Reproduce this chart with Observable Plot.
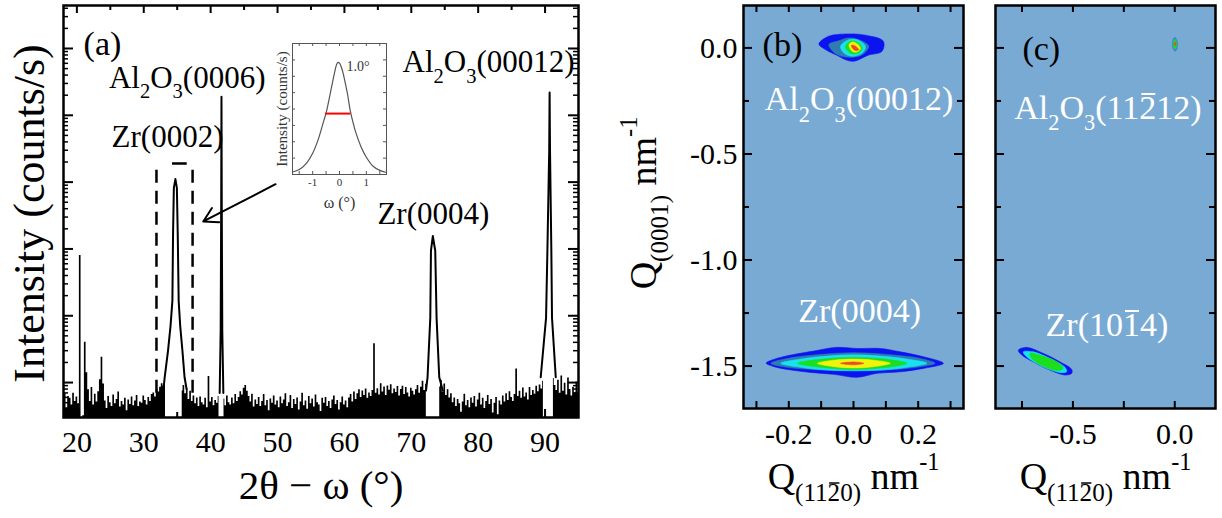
<!DOCTYPE html>
<html><head><meta charset="utf-8">
<script src="https://cdn.jsdelivr.net/npm/d3@7"></script>
<script src="https://cdn.jsdelivr.net/npm/@observablehq/plot@0.6"></script>
<style>
body{margin:0;background:#fff;}
#fig{position:relative;width:1222px;height:518px;overflow:hidden;background:#fff;}
#fig > div{position:absolute;top:0;}
#fig svg text, #fig svg tspan{font-family:'Liberation Serif','Times New Roman',serif !important;}
</style></head><body><div id="fig"></div>
<script>
// ---------------- DATA ----------------
// Panel (a): 2theta-omega survey scan (counts/s), sampled every 0.25 deg from 18 deg
const scanStart = 18, scanStep = 0.25;
const scanCounts = [
5.5,6.8,4.2,6.2, 5.8,4.6,6.9,5.2, 6.1,4.8,800,3, 3.2,40,14,7.8,
5.2,8.4,4.6,6.7, 5.1,7.3,11,24, 9.5,5.3,4.1,6.2, 5.0,4.4,6.5,4.8,
5.6,7.2,4.3,5.2, 4.6,5.8,3.8,5.5, 4.7,6.1,4.5,5.3, 6.4,4.4,5.1,4.9,
6.3,5.4,4.6,6.0, 5.2,6.6,7.0,6.1, 7.8,7.2,8.5,9.6, 8.8,10,null,null,
null,null,null,null, null,null,null,7.5, 9.0,6.8,8.1,5.6, 7.4,5.2,6.3,4.8,
5.9,4.4,6.1,5.0, 4.6,5.8,4.2,12.3, 5.1,6.0,4.5,5.4, 4.9,6.2,null,null,
5.7,4.5,6.3,5.0, 4.6,5.9,4.8,6.6, 5.2,6.0,7.3,6.5, 8.2,9.0,7.4,6.2,
5.1,6.7,4.3,5.5, 4.7,6.0,4.4,5.2, 6.6,4.5,5.4,3.8, 5.7,4.9,6.3,4.6,
5.3,4.2,6.1,4.8, 5.5,6.8,4.4,5.0, 6.4,4.1,5.6,4.7, 5.9,3.9,5.1,6.9,
4.5,5.3,4.0,6.2, 4.8,5.7,4.3,6.5, 5.0,4.6,3.7,5.8, 4.9,6.0,4.4,5.2,
4.1,5.5,6.3,4.7, 5.4,3.9,5.0,6.1, 4.6,5.3,4.2,5.9, 6.6,5.1,7.2,5.6,
6.8,7.8,6.0,7.5, 6.4,8.0,5.8,7.0, 6.2,7.6,38,6.9, 8.1,6.5,9.6,7.2,
8.6,6.4,8.9,7.7, 9.3,6.8,8.0,7.1, 8.7,6.3,7.9,8.8, 6.6,8.4,7.0,6.1,
8.2,7.4,6.5,7.8, 9.0,6.9,8.5,10.5, 7.6,9.4,null,null, null,null,null,null,
null,8.6,10.8,7.2, 9.5,6.4,7.8,5.9, 6.8,5.0,5.9,4.4, 5.6,4.8,3.6,5.1,
6.7,4.5,5.4,4.2, 5.9,4.9,6.2,4.3, 5.5,6.9,4.6,5.8, 4.1,5.2,6.4,4.7,
5.6,3.5,4.9,6.0, 3.3,5.3,4.6,6.3, 5.1,6.8,5.4,7.3, 6.0,5.2,6.6,16,
6.2,7.4,5.8,8.3, 6.1,7.0,5.5,8.4, 6.4,7.6,6.7,8.8, 7.3,9.2,8.0,10.5,
null,null,null,null, null,11.5,9.0,7.6, 10.8,6.9,12.5,7.4, 9.8,6.5,11.7,7.9,
6.3,8.5,7.0,10.2, 6.6
];
// Peak profiles (finer sampling)
const zr0002Angle  = [33.0,33.13,33.63,34.0,34.28,34.38,34.5,34.73,34.95,35.08,35.22,35.45,35.78,36.1,36.4];
const zr0002Counts = [9,12,30,70,167,1690,8200,11100,8200,1690,167,70,30,12,8];
const al0006Angle  = [41.35,41.5,41.58,41.62,41.66,41.74,41.9];
const al0006Counts = [7,60,5000,190000,5000,60,7];
const zr0004Angle  = [72.2,72.43,72.84,72.94,73.22,73.58,73.78,74.18,74.7];
const zr0004Counts = [7.6,12,93,940,1560,940,93,12,7.6];
const al00012Angle  = [89.35,90.15,90.35,90.62,90.68,90.74,90.94,91.04,91.6];
const al00012Counts = [12,93,940,30000,220000,30000,940,93,12];

const aXDomain = [18, 95];
const aYDomain = [3, 4.4e6];
const aXTickLabels = [20,30,40,50,60,70,80,90];
const aXMinorTicks = [25,35,45,55,65,75,85];
const aYMajorTicks = [10,100,1e3,1e4,1e5,1e6];

// annotations in panel (a)
const aPeakLabels = ["Al_{2}O_{3}(0006)","Zr(0002)","Al_{2}O_{3}(00012)","Zr(0004)"];
const aPeakLabelAngle = [36.5,33.55,81.55,73.3];
const aPeakLabelCounts = [2.6e5,3.3e4,4.4e5,2400];
const aPanelTag = "(a)", aPanelTagAngle = 21.0, aPanelTagCounts = 7.9e5;
const boxAngles = [31.9, 37.3];
const boxCounts = [6.9, 16600];
const boxBarAngles = [34.3, 36.5], boxBarCounts = 19000;
const arrowFrom = [49.7, 9300], arrowTo = [38.9, 2580];

// inset: rocking curve
const insetOmega = [-1.75,-1.5,-1.25,-1.0,-0.8,-0.6,-0.5,-0.4,-0.3,-0.2,-0.1,-0.05,0.0,0.1,0.2,0.3,0.4,0.5,0.6,0.8,1.0,1.25,1.5,1.75];
const insetIntensity = [0.15,0.3,0.65,1.3,2.1,3.2,3.75,4.5,5.3,6.1,6.75,6.85,6.8,6.4,5.7,4.9,3.9,3.2,2.6,1.7,1.05,0.5,0.25,0.12];
const fwhmLeft = -0.52, fwhmRight = 0.42, fwhmLevel = 3.72;
const fwhmText = "1.0°", fwhmTextOmega = 0.26, fwhmTextLevel = 6.35;

// Panel (b) RSM contours (Q_x, Q_z)
const b1Level1 = [[-0.107,0.019],[-0.077,0.055],[-0.019,0.066],[0.037,0.060],[0.092,0.032],[0.088,-0.016],[0.046,-0.034],[-0.004,-0.063],[-0.055,-0.032],[-0.092,-0.003]];
const b1Level2 = [[-0.076,0.016],[-0.045,0.034],[-0.014,0.047],[0.027,0.032],[0.047,0.008],[0.027,-0.032],[-0.014,-0.044],[-0.055,-0.028]];
const b1Level3 = [[-0.04,0.008],[-0.014,0.039],[0.011,0.039],[0.037,0.008],[0.027,-0.024],[-0.004,-0.039],[-0.03,-0.024]];
const b1Level4 = [[-0.025,0.008],[-0.009,0.032],[0.011,0.028],[0.027,0],[0.016,-0.024],[-0.004,-0.028],[-0.019,-0.013]];
const b1Level5 = [[-0.014,0.016],[-0.002,0.028],[0.014,0.016],[0.022,-0.003],[0.011,-0.019],[-0.004,-0.016]];
const b1Level6 = [[-0.006,0.013],[0.006,0.008],[0.016,-0.008],[0.008,-0.013],[-0.004,0]];
const b2Level1 = [[-0.27,-1.486],[-0.235,-1.463],[-0.184,-1.445],[-0.122,-1.429],[-0.055,-1.412],[0.011,-1.417],[0.083,-1.417],[0.145,-1.433],[0.216,-1.456],[0.278,-1.487],[0.216,-1.511],[0.145,-1.527],[0.073,-1.534],[0.011,-1.553],[-0.061,-1.539],[-0.132,-1.530],[-0.204,-1.516],[-0.245,-1.503]];
const b2Level2 = [[-0.255,-1.487],[-0.204,-1.464],[-0.122,-1.448],[0.001,-1.437],[0.124,-1.448],[0.206,-1.464],[0.252,-1.487],[0.206,-1.503],[0.124,-1.516],[0.001,-1.522],[-0.122,-1.516],[-0.204,-1.506]];
const b2Level3 = [[-0.225,-1.487],[-0.163,-1.467],[-0.081,-1.453],[0.001,-1.447],[0.083,-1.453],[0.165,-1.467],[0.227,-1.487],[0.165,-1.506],[0.083,-1.519],[0.001,-1.522],[-0.081,-1.519],[-0.163,-1.506]];
const b2Level4 = [[-0.173,-1.487],[-0.102,-1.468],[0.001,-1.459],[0.104,-1.468],[0.165,-1.487],[0.104,-1.506],[0.001,-1.516],[-0.102,-1.506]];
const b2Level5 = [[-0.112,-1.487],[-0.061,-1.472],[0.001,-1.467],[0.062,-1.472],[0.114,-1.487],[0.062,-1.503],[0.001,-1.509],[-0.061,-1.503]];
const b2Level6 = [[-0.04,-1.487],[0.0,-1.481],[0.032,-1.487],[0.0,-1.494]];
// Panel (c)
const c1Level1 = [[0.002,0.05],[0.013,0.03],[0.014,0.01],[0.008,-0.012],[0.0,-0.015],[-0.01,0.0],[-0.012,0.025],[-0.006,0.045]];
const c1Level2 = [[0.002,0.04],[0.009,0.02],[0.006,0.0],[-0.003,-0.003],[-0.007,0.02],[-0.004,0.035]];
const c1Level3 = [[0.002,0.028],[0.005,0.018],[0.002,0.01],[-0.002,0.018]];
const c2Level1 = [[-0.768,-1.425],[-0.727,-1.412],[-0.646,-1.440],[-0.564,-1.480],[-0.506,-1.516],[-0.506,-1.534],[-0.539,-1.542],[-0.613,-1.519],[-0.695,-1.480],[-0.751,-1.448]];
const c2Level2 = [[-0.744,-1.433],[-0.695,-1.433],[-0.613,-1.464],[-0.539,-1.506],[-0.531,-1.527],[-0.564,-1.530],[-0.646,-1.503],[-0.727,-1.456]];
const c2Level3 = [[-0.711,-1.440],[-0.646,-1.453],[-0.580,-1.480],[-0.548,-1.511],[-0.572,-1.522],[-0.646,-1.500],[-0.702,-1.464]];

const bXDomain = [-0.34, 0.34], cXDomain = [-0.88, 0.2], qzDomain = [-1.7, 0.2];
const bXTickLabels = [-0.2, 0, 0.2], bXTicks = [-0.3,-0.2,-0.1,0,0.1,0.2,0.3];
const cXTickLabels = [-0.5, 0], cXTicks = [-0.75,-0.5,-0.25,0];
const qzTickLabels = [0,-0.5,-1,-1.5], qzMinorTicks = [-0.25,-0.75,-1.25];
const bLabels = ["Al_{2}O_{3}(00012)","Zr(0004)"], bLabelQx = [0.017,0.019], bLabelQz = [-0.295,-1.29];
const cLabels = ["Al_{2}O_{3}(11~{2}12)","Zr(10~{1}4)"], cLabelQx = [-0.328,-0.333], cLabelQz = [-0.333,-1.356];
const bTag = "(b)", bTagQx = -0.281, bTagQz = -0.04;
const cTag = "(c)", cTagQx = -0.748, cTagQz = -0.059;

// ---------------- STYLE ----------------
const FONT = "'Liberation Serif','Times New Roman',serif";
const BG = "#79aad4";
const COL = {blue:"#0b14f0", steel:"#2f7cb2", cyan:"#18e2ef", green:"#1ade1e", yellow:"#f2f20c", red:"#e84a2a"};
const fig = document.getElementById("fig");
function place(svg, left, top, w, z) {
  const d = document.createElement("div");
  d.style.left = left + "px"; d.style.top = top + "px"; d.style.width = w + "px";
  if (z) d.style.zIndex = z;
  d.appendChild(svg); fig.appendChild(d); return svg;
}
const fmt1 = d => d.toFixed(1);

// ---------------- PANEL (a) ----------------
const scan = scanCounts.map((c, i) => ({angle: scanStart + i * scanStep, counts: c}));
const peaks = [];
[["zr0002", zr0002Angle, zr0002Counts], ["al0006", al0006Angle, al0006Counts],
 ["zr0004", zr0004Angle, zr0004Counts], ["al00012", al00012Angle, al00012Counts]]
  .forEach(([name, A, C]) => A.forEach((a, i) => peaks.push({peak: name, angle: a, counts: C[i]})));
const aYMinorTicks = [];
[1,10,100,1e3,1e4,1e5,1e6].forEach(d => { for (let k = 2; k <= 9; k++) { const v = k * d; if (v > aYDomain[0] && v < aYDomain[1]) aYMinorTicks.push(v); } });
const aFW = 515, aFH = 412;

const plotA = Plot.plot({
  width: 600, height: 518, marginLeft: 63, marginRight: 22, marginTop: 5, marginBottom: 101,
  style: {fontFamily: FONT, fontSize: "30px", color: "black", background: "white"},
  x: {domain: aXDomain, axis: null},
  y: {type: "log", domain: aYDomain, axis: null},
  marks: [
    Plot.areaY(scan, {x: "angle", y1: () => aYDomain[0], y2: "counts", curve: "step", fill: "black", clip: true}),
    Plot.line(peaks, {x: "angle", y: "counts", z: "peak", stroke: "black", strokeWidth: 2, clip: true}),
    Plot.ruleX(boxAngles, {x: d => d, y1: () => boxCounts[0], y2: () => boxCounts[1], stroke: "black", strokeWidth: 2.5, strokeDasharray: "13,8"}),
    Plot.ruleY([boxBarCounts], {y: d => d, x1: () => boxBarAngles[0], x2: () => boxBarAngles[1], stroke: "black", strokeWidth: 2.5}),
    Plot.arrow([0], {x1: () => arrowFrom[0], y1: () => arrowFrom[1], x2: () => arrowTo[0], y2: () => arrowTo[1], stroke: "black", strokeWidth: 2, headLength: 12}),
    Plot.ruleX(aXTickLabels, {x: d => d, insetTop: aFH - 8, strokeWidth: 2}),
    Plot.ruleX(aXMinorTicks, {x: d => d, insetTop: aFH - 5, strokeWidth: 2}),
    Plot.ruleX(aXTickLabels, {x: d => d, insetBottom: aFH - 8, strokeWidth: 2}),
    Plot.ruleX(aXMinorTicks, {x: d => d, insetBottom: aFH - 5, strokeWidth: 2}),
    Plot.ruleY(aYMajorTicks, {y: d => d, insetRight: aFW - 10, strokeWidth: 2}),
    Plot.ruleY(aYMinorTicks, {y: d => d, insetRight: aFW - 5, strokeWidth: 1.5}),
    Plot.ruleY(aYMajorTicks, {y: d => d, insetLeft: aFW - 10, strokeWidth: 2}),
    Plot.ruleY(aYMinorTicks, {y: d => d, insetLeft: aFW - 5, strokeWidth: 1.5}),
    Plot.frame({stroke: "black", strokeWidth: 2.5}),
    Plot.axisX({ticks: aXTickLabels, tickSize: 0, tickPadding: 13, fontSize: 30, label: null, tickFormat: d => String(d)}),
    Plot.text(aPeakLabels, {x: (d, i) => aPeakLabelAngle[i], y: (d, i) => aPeakLabelCounts[i], text: d => d, fontSize: 31, textAnchor: "middle", lineAnchor: "bottom", fill: "black"}),
    Plot.text([aPanelTag], {x: () => aPanelTagAngle, y: () => aPanelTagCounts, text: d => d, fontSize: 34, textAnchor: "start", lineAnchor: "bottom"}),
    Plot.text(["2θ − ω (°)"], {frameAnchor: "bottom", dy: 81, text: d => d, fontSize: 41, textAnchor: "middle", lineAnchor: "bottom"}),
    Plot.text(["Intensity (counts/s)"], {frameAnchor: "left", dx: -20, dy: 2, rotate: -90, text: d => d, fontSize: 44, textAnchor: "middle", lineAnchor: "bottom"})
  ]
});
place(plotA, 0, 0, 600);

// ---------------- INSET ----------------
const inset = insetOmega.map((w, i) => ({omega: w, intensity: insetIntensity[i]}));
const iFW = 94, iFH = 131;
const plotInset = Plot.plot({
  width: 140, height: 190, marginLeft: 32, marginRight: 14, marginTop: 13, marginBottom: 46,
  style: {fontFamily: FONT, fontSize: "11px", color: "#333", background: "transparent"},
  x: {domain: [-1.75, 1.75], axis: null},
  y: {domain: [0, 8], axis: null},
  marks: [
    Plot.line(inset, {x: "omega", y: "intensity", stroke: "#555", strokeWidth: 1.2, curve: "catmull-rom"}),
    Plot.ruleY([fwhmLevel], {y: d => d, x1: () => fwhmLeft, x2: () => fwhmRight, stroke: "red", strokeWidth: 2}),
    Plot.ruleX([-1.5,-1,-0.5,0,0.5,1,1.5], {x: d => d, insetTop: iFH - 3, stroke: "#555"}),
    Plot.ruleX([-1.5,-1,-0.5,0,0.5,1,1.5], {x: d => d, insetBottom: iFH - 3, stroke: "#555"}),
    Plot.ruleY([1,2,3,4,5,6,7], {y: d => d, insetRight: iFW - 3, stroke: "#555"}),
    Plot.ruleY([1,2,3,4,5,6,7], {y: d => d, insetLeft: iFW - 3, stroke: "#555"}),
    Plot.frame({stroke: "#555", strokeWidth: 1}),
    Plot.axisX({ticks: [-1, 0, 1], tickSize: 0, tickPadding: 4, fontSize: 11, label: null, tickFormat: d => String(d)}),
    Plot.text([fwhmText], {x: () => fwhmTextOmega, y: () => fwhmTextLevel, text: d => d, fontSize: 14, textAnchor: "start", lineAnchor: "bottom", fill: "#333"}),
    Plot.text(["ω (°)"], {frameAnchor: "bottom", dy: 33, text: d => d, fontSize: 16, textAnchor: "middle", lineAnchor: "bottom", fill: "#333"}),
    Plot.text(["Intensity (counts/s)"], {frameAnchor: "left", dx: -6, rotate: -90, text: d => d, fontSize: 15, textAnchor: "middle", lineAnchor: "bottom", fill: "#333"})
  ]
});
place(plotInset, 260, 30, 140, 5);

// ---------------- PANELS (b) and (c) ----------------
function contourMarks(list) {
  return list.map(([pts, color]) => Plot.line(pts, {x: d => d[0], y: d => d[1], curve: "catmull-rom-closed", fill: color, stroke: color, strokeWidth: 0.6}));
}
const qFW = 220, qFH = 403;
function rsmPlot({width, marginLeft, marginRight, xDomain, xTicks, xTickLabels, yLabels, contours, labels, labelQx, labelQz, tag, tagQx, tagQz}) {
  return Plot.plot({
    width, height: 518, marginLeft, marginRight, marginTop: 5, marginBottom: 110,
    style: {fontFamily: FONT, fontSize: "30px", color: "black", background: "white"},
    x: {domain: xDomain, axis: null},
    y: {domain: qzDomain, axis: null},
    marks: [
      Plot.frame({fill: BG, stroke: null}),
      ...contourMarks(contours),
      Plot.ruleX(xTicks, {x: d => d, insetTop: qFH - 7, strokeWidth: 2}),
      Plot.ruleX(xTicks, {x: d => d, insetBottom: qFH - 7, strokeWidth: 2}),
      Plot.ruleY(qzTickLabels, {y: d => d, insetRight: qFW - 9, strokeWidth: 2}),
      Plot.ruleY(qzMinorTicks, {y: d => d, insetRight: qFW - 6, strokeWidth: 2}),
      Plot.ruleY(qzTickLabels, {y: d => d, insetLeft: qFW - 9, strokeWidth: 2}),
      Plot.ruleY(qzMinorTicks, {y: d => d, insetLeft: qFW - 6, strokeWidth: 2}),
      Plot.frame({stroke: "black", strokeWidth: 2.5}),
      Plot.axisX({ticks: xTickLabels, tickSize: 0, tickPadding: 14, fontSize: 30, label: null, tickFormat: fmt1}),
      ...(yLabels ? [Plot.axisY({ticks: qzTickLabels, tickSize: 0, tickPadding: 6, fontSize: 30, label: null, tickFormat: fmt1})] : []),
      Plot.text(labels, {x: (d, i) => labelQx[i], y: (d, i) => labelQz[i], text: d => d, fontSize: 34, fill: "white", textAnchor: "middle", lineAnchor: "bottom"}),
      Plot.text([tag], {x: () => tagQx, y: () => tagQz, text: d => d, fontSize: 34, fill: "black", textAnchor: "start", lineAnchor: "bottom"}),
      Plot.text(["Q_{(11~{2}0)} nm^{-1}"], {frameAnchor: "bottom", dy: 80, text: d => d, fontSize: 38, textAnchor: "middle", lineAnchor: "bottom"}),
      ...(yLabels ? [Plot.text(["Q_{(0001)} nm^{-1}"], {frameAnchor: "left", dx: -88, dy: -4, rotate: -90, text: d => d, fontSize: 38, textAnchor: "middle", lineAnchor: "bottom"})] : [])
    ]
  });
}
const plotB = rsmPlot({
  width: 380, marginLeft: 143, marginRight: 17, xDomain: bXDomain, xTicks: bXTicks, xTickLabels: bXTickLabels, yLabels: true,
  contours: [[b1Level1, COL.blue],[b1Level2, COL.steel],[b1Level3, COL.cyan],[b1Level4, COL.green],[b1Level5, COL.yellow],[b1Level6, COL.red],
             [b2Level1, COL.blue],[b2Level2, COL.steel],[b2Level3, COL.cyan],[b2Level4, COL.green],[b2Level5, COL.yellow],[b2Level6, COL.red]],
  labels: bLabels, labelQx: bLabelQx, labelQz: bLabelQz, tag: bTag, tagQx: bTagQx, tagQz: bTagQz
});
place(plotB, 600, 0, 380);
const plotC = rsmPlot({
  width: 242, marginLeft: 15, marginRight: 7, xDomain: cXDomain, xTicks: cXTicks, xTickLabels: cXTickLabels, yLabels: false,
  contours: [[c1Level1, "#3f86d6"],[c1Level2, COL.green],[c1Level3, COL.red],
             [c2Level1, COL.blue],[c2Level2, COL.cyan],[c2Level3, COL.green]],
  labels: cLabels, labelQx: cLabelQx, labelQz: cLabelQz, tag: cTag, tagQx: cTagQx, tagQz: cTagQz
});
place(plotC, 980, 0, 242);

// ---------------- rich text (sub/superscripts, overbars) ----------------
function parseRich(s) {
  const runs = [], stack = []; let buf = "";
  const flush = () => { if (buf) { runs.push({text: buf, mods: stack.slice()}); buf = ""; } };
  for (let i = 0; i < s.length; i++) {
    const c = s[i];
    if ((c === "_" || c === "^" || c === "~") && s[i + 1] === "{") { flush(); stack.push(c); i++; continue; }
    if (c === "}" && stack.length) { flush(); stack.pop(); continue; }
    buf += c;
  }
  flush(); return runs;
}
const SVGNS = "http://www.w3.org/2000/svg";
fig.querySelectorAll("text").forEach(t => {
  const s = t.textContent;
  if (!/[_^~]\{/.test(s)) return;
  const fs = parseFloat(getComputedStyle(t).fontSize);
  const runs = parseRich(s);
  while (t.firstChild) t.removeChild(t.firstChild);
  let prev = 0, charIndex = 0;
  const bars = [];
  runs.forEach(r => {
    let size = fs, off = 0;
    r.mods.forEach(m => { if (m === "_") { off += 0.33 * size; size *= 0.66; } else if (m === "^") { off -= 0.5 * size; size *= 0.64; } });
    const ts = document.createElementNS(SVGNS, "tspan");
    ts.setAttribute("font-size", size.toFixed(1));
    ts.setAttribute("dy", (off - prev).toFixed(1));
    ts.textContent = r.text;
    t.appendChild(ts);
    if (r.mods.includes("~")) bars.push({start: charIndex, n: r.text.length, size});
    charIndex += r.text.length;
    prev = off;
  });
  // draw overbars just above the glyphs
  bars.forEach(b => {
    const first = t.getExtentOfChar(b.start), last = t.getExtentOfChar(b.start + b.n - 1);
    const x1 = first.x + 0.06 * b.size, x2 = last.x + last.width - 0.03 * b.size;
    const y = first.y + 0.16 * b.size;
    const ln = document.createElementNS(SVGNS, "line");
    ln.setAttribute("x1", x1); ln.setAttribute("x2", x2);
    ln.setAttribute("y1", y); ln.setAttribute("y2", y);
    ln.setAttribute("stroke", getComputedStyle(t).fill);
    ln.setAttribute("stroke-width", Math.max(1.5, 0.06 * b.size).toFixed(2));
    if (t.getAttribute("transform")) ln.setAttribute("transform", t.getAttribute("transform"));
    t.parentNode.appendChild(ln);
  });
});
</script></body></html>
